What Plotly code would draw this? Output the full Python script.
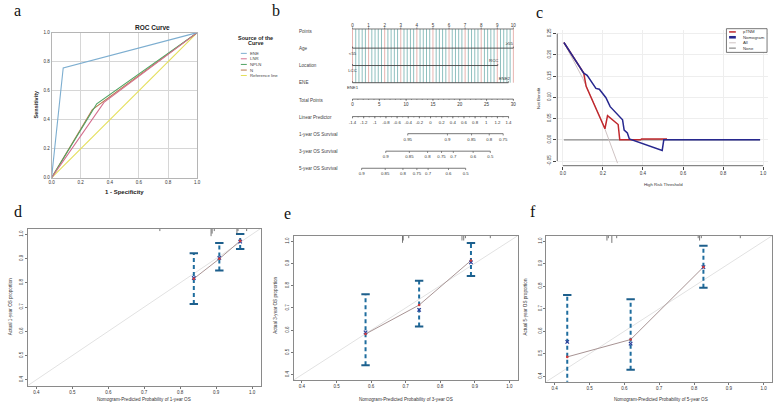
import plotly.graph_objects as go

W, H = 777, 412
def fx(p): return p / W
def fy(p): return 1 - p / H

SANS = "Liberation Sans, Arial, sans-serif"
SERIF = "Liberation Serif, Times New Roman, serif"

# ================= DATA =================
# --- Panel a: ROC curves ---
roc_names = ["ENE", "LNR", "NPLN", "N", "Reference line"]
roc_colors = ["#7daed0", "#d4708f", "#4fa362", "#b9784c", "#e4df5a"]
roc_fpr_ene = [0, 0.08, 1]
roc_tpr_ene = [0, 0.757, 1]
roc_fpr_lnr = [0, 0.36, 1]
roc_tpr_lnr = [0, 0.52, 1]
roc_fpr_npln = [0, 0.31, 1]
roc_tpr_npln = [0, 0.51, 1]
roc_fpr_n = [0, 0.28, 1]
roc_tpr_n = [0, 0.47, 1]
roc_fpr_ref = [0, 1]
roc_tpr_ref = [0, 1]
unit_ticks = [0, 0.2, 0.4, 0.6, 0.8, 1.0]
unit_ticktext = ["0.0", "0.2", "0.4", "0.6", "0.8", "1.0"]

# --- Panel b: nomogram ---
nomo_rows = ["Points", "Age", "Location", "ENE", "Total Points", "Linear Predictor",
             "1-year OS Survival", "3-year OS Survival", "5-year OS Survival"]
points_ticks = [0, 1, 2, 3, 4, 5, 6, 7, 8, 9, 10]
age_points = [0, 10]
age_levels = ["<55", "≥55"]
location_points = [0, 9.03]
location_levels = ["LCC", "RCC"]
ene_points = [0, 9.69]
ene_levels = ["ENE1", "ENE2"]
total_points_ticks = [0, 5, 10, 15, 20, 25, 30]
lp_ticks = [-1.4, -1.2, -1, -0.8, -0.6, -0.4, -0.2, 0, 0.2, 0.4, 0.6, 0.8, 1, 1.2, 1.4]
lp_total_points = [0.0, 29.1]          # total points at LP = -1.4 and LP = 1.4
os1_labels = ["0.95", "0.9", "0.85", "0.8", "0.75"]
os1_total_points = [10.3, 17.7, 22.2, 25.5, 28.1]
os3_labels = ["0.9", "0.85", "0.8", "0.75", "0.7", "0.6", "0.5"]
os3_total_points = [6.2, 10.6, 14.0, 16.6, 18.8, 22.5, 25.7]
os5_labels = ["0.9", "0.85", "0.8", "0.75", "0.7", "0.6", "0.5"]
os5_total_points = [1.7, 6.1, 9.4, 12.0, 14.1, 17.9, 21.1]

# --- Panel c: decision curve ---
dca_thr_nomo = [0.005, 0.074, 0.104, 0.121, 0.165, 0.182, 0.215, 0.236, 0.298, 0.306, 0.322, 0.332, 0.496, 0.504, 0.985]
dca_nb_nomo = [0.229, 0.177, 0.157, 0.152, 0.121, 0.119, 0.099, 0.078, 0.047, 0.023, 0.016, 0.002, -0.025, 0.0, 0.0]
dca_thr_ptnm = [0.005, 0.074, 0.104, 0.116, 0.21, 0.223, 0.276, 0.284, 0.388, 0.393, 0.52]
dca_nb_ptnm = [0.229, 0.177, 0.157, 0.126, 0.026, 0.057, 0.036, 0.0, 0.0, 0.002, 0.002]
dca_thr_all = [0.005, 0.1, 0.2, 0.273]
dca_nb_all = [0.229, 0.144, 0.038, -0.055]
dca_thr_none = [0.005, 0.985]
dca_nb_none = [0.0, 0.0]
dca_xticks = [0, 0.2, 0.4, 0.6, 0.8, 1.0]
dca_xticktext = ["0.0", "0.2", "0.4", "0.6", "0.8", "1.0"]
dca_yticks = [-0.05, 0, 0.05, 0.10, 0.15, 0.20, 0.25]
dca_yticktext = ["-0.05", "0.00", "0.05", "0.10", "0.15", "0.20", "0.25"]

# --- Panels d, e, f: calibration ---
cal_ticks = [0.4, 0.5, 0.6, 0.7, 0.8, 0.9, 1.0]
cal_ticktext = ["0.4", "0.5", "0.6", "0.7", "0.8", "0.9", "1.0"]
d_pred = [0.838, 0.909, 0.967]
d_obs = [0.817, 0.899, 0.973]
d_bc = [0.820, 0.903, 0.970]
d_lo = [0.713, 0.851, 0.940]
d_hi = [0.922, 0.964, 1.001]
d_rug = [0.7435, 0.886, 0.889, 0.895, 0.958, 0.961, 0.985]
d_rug_n = [1, 3, 2, 1, 2, 1, 1]

e_pred = [0.584, 0.739, 0.889]
e_obs = [0.583, 0.713, 0.913]
e_bc = [0.590, 0.691, 0.905]
e_lo = [0.443, 0.617, 0.844]
e_hi = [0.761, 0.822, 0.992]
e_rug = [0.691, 0.693, 0.709, 0.863, 0.868, 0.873, 0.945]
e_rug_n = [3, 2, 1, 2, 2, 1, 1]

f_pred = [0.436, 0.618, 0.827]
f_obs = [0.486, 0.563, 0.885]
f_bc = [0.553, 0.545, 0.885]
f_lo = [0.300, 0.429, 0.793]
f_hi = [0.761, 0.742, 0.980]
f_rug = [0.550, 0.554, 0.564, 0.578, 0.812, 0.816, 0.821, 0.933]
f_rug_n = [2, 1, 3, 1, 1, 2, 1, 1]

# ================= FIGURE =================
fig = go.Figure()
annotations = []
shapes = []

def ann(text, x, y, size, bold=False, color="#222", xanchor="center", angle=0, family=SANS):
    annotations.append(dict(text=("<b>%s</b>" % text) if bold else text, x=fx(x), y=fy(y),
                            xref="paper", yref="paper", showarrow=False, xanchor=xanchor,
                            yanchor="middle", textangle=angle,
                            font=dict(size=size, color=color, family=family)))

def lines_trace(xs, ys, color, width, xa, ya, dash=None):
    return go.Scatter(x=xs, y=ys, mode="lines", line=dict(color=color, width=width, dash=dash),
                      xaxis=xa, yaxis=ya, showlegend=False, hoverinfo="skip")

def segs(pairs_x, pairs_y, color, width, xa, ya, dash=None):
    X, Y = [], []
    for (x0, x1), (y0, y1) in zip(pairs_x, pairs_y):
        X += [x0, x1, None]
        Y += [y0, y1, None]
    return lines_trace(X, Y, color, width, xa, ya, dash)

def texts(xs, ys, labels, size, xa, ya, color="#333", pos="middle center"):
    return go.Scatter(x=xs, y=ys, text=labels, mode="text", textposition=pos,
                      textfont=dict(size=size, color=color, family=SANS), cliponaxis=False,
                      xaxis=xa, yaxis=ya, showlegend=False, hoverinfo="skip")

# ---------- Panel a ----------
roc_data = [(roc_fpr_ref, roc_tpr_ref, roc_colors[4]),
            (roc_fpr_n, roc_tpr_n, roc_colors[3]),
            (roc_fpr_npln, roc_tpr_npln, roc_colors[2]),
            (roc_fpr_lnr, roc_tpr_lnr, roc_colors[1]),
            (roc_fpr_ene, roc_tpr_ene, roc_colors[0])]
for xs, ys, col in roc_data:
    fig.add_trace(lines_trace(xs, ys, col, 1.1, "x", "y"))

ann("a", 14.5, 8.5, 16, family=SERIF, color="#111")
ann("ROC Curve", 151, 26, 6.5, bold=True)
ann("Sensitivity", 33, 104, 5.5, bold=True, angle=-90)
ann("1 - Specificity", 123, 192.5, 6, bold=True)
ann("Source of the", 255, 36, 5.5, bold=True)
ann("Curve", 255, 41.5, 5.5, bold=True)
leg_a_y = [52, 57.5, 63.2, 68.9, 74.4]
for name, col, yy in zip(roc_names, roc_colors, leg_a_y):
    shapes.append(dict(type="line", xref="paper", yref="paper", x0=fx(240), x1=fx(246),
                       y0=fy(yy), y1=fy(yy), line=dict(color=col, width=1)))
    ann(name, 247.5, yy, 4.3, xanchor="left", color="#444")

# ---------- Panel b: nomogram ----------
def tp(v):  # total points -> points scale
    return v / 3.0

row_y = dict(points=27.3, age=46.7, location=64.3, ene=81.7, total=98.3, lp=116.0,
             os1=133.3, os3=151.0, os5=168.3)
label_y = [30, 47, 64, 81.7, 99.3, 117, 134, 151, 168.3]
for lab, yy in zip(nomo_rows, label_y):
    ann(lab, 296.7, yy, 4.6, xanchor="left", color="#444")

# vertical grid
grid_teal_x, grid_pink_x = [], []
for i in range(0, 51):
    p = i * 0.2
    if i % 5 == 0:
        grid_pink_x.append(p)
    else:
        grid_teal_x.append(p)
fig.add_trace(segs([(p, p) for p in grid_teal_x], [(row_y["points"], row_y["ene"])] * len(grid_teal_x),
                   "#8fc0bf", 1.0, "x2", "y2"))
fig.add_trace(segs([(p, p) for p in grid_pink_x], [(row_y["points"], row_y["ene"])] * len(grid_pink_x),
                   "#e7b4b0", 1.0, "x2", "y2"))

AX = "#555555"
# Points axis
fig.add_trace(lines_trace([points_ticks[0], points_ticks[-1]], [row_y["points"]] * 2, AX, 0.8, "x2", "y2"))
fig.add_trace(segs([(p, p) for p in points_ticks], [(row_y["points"], row_y["points"] - 1.5)] * len(points_ticks),
                   AX, 0.7, "x2", "y2"))
fig.add_trace(texts(points_ticks, [23.8] * len(points_ticks), [str(p) for p in points_ticks], 4.5, "x2", "y2"))

# variable axes
for key, pts, levels in [("age", age_points, age_levels),
                         ("location", location_points, location_levels),
                         ("ene", ene_points, ene_levels)]:
    yy = row_y[key]
    fig.add_trace(lines_trace(pts, [yy, yy], "#444444", 0.9, "x2", "y2"))
    fig.add_trace(segs([(p, p) for p in pts], [(yy, yy - 1.5)] * len(pts), "#444444", 0.7, "x2", "y2"))
    fig.add_trace(texts([pts[0]], [yy + 5.5], [levels[0]], 4.3, "x2", "y2"))
    fig.add_trace(texts([pts[1] - 0.25], [yy - 4.2], [levels[1]], 4.3, "x2", "y2"))

# Total points
tot_minor = list(range(0, 31))
yy = row_y["total"]
fig.add_trace(lines_trace([tp(total_points_ticks[0]), tp(total_points_ticks[-1])], [yy, yy], AX, 0.8, "x2", "y2"))
fig.add_trace(segs([(tp(v), tp(v)) for v in tot_minor], [(yy, yy + 0.9)] * len(tot_minor), AX, 0.6, "x2", "y2"))
fig.add_trace(segs([(tp(v), tp(v)) for v in total_points_ticks], [(yy, yy + 1.8)] * len(total_points_ticks), AX, 0.7, "x2", "y2"))
fig.add_trace(texts([tp(v) for v in total_points_ticks], [104.3] * len(total_points_ticks),
                    [str(v) for v in total_points_ticks], 4.5, "x2", "y2"))

# Linear predictor
def lp_to_points(v):
    lo, hi = lp_ticks[0], lp_ticks[-1]
    return tp(lp_total_points[0] + (v - lo) / (hi - lo) * (lp_total_points[1] - lp_total_points[0]))
yy = row_y["lp"]
lp_minor = [lp_ticks[0] + 0.1 * k for k in range(29)]
fig.add_trace(lines_trace([lp_to_points(lp_ticks[0]), lp_to_points(lp_ticks[-1])], [yy, yy], AX, 0.8, "x2", "y2"))
fig.add_trace(segs([(lp_to_points(v), lp_to_points(v)) for v in lp_minor], [(yy, yy + 0.9)] * len(lp_minor), AX, 0.6, "x2", "y2"))
fig.add_trace(segs([(lp_to_points(v), lp_to_points(v)) for v in lp_ticks], [(yy, yy + 1.8)] * len(lp_ticks), AX, 0.7, "x2", "y2"))
fig.add_trace(texts([lp_to_points(v) for v in lp_ticks], [122.5] * len(lp_ticks),
                    ["%g" % v for v in lp_ticks], 4.3, "x2", "y2"))

# survival axes
for key, labs, tps, ly in [("os1", os1_labels, os1_total_points, 139.3),
                           ("os3", os3_labels, os3_total_points, 157.0),
                           ("os5", os5_labels, os5_total_points, 174.3)]:
    yy = row_y[key]
    xs = [tp(v) for v in tps]
    fig.add_trace(lines_trace([xs[0], xs[-1]], [yy, yy], AX, 0.8, "x2", "y2"))
    fig.add_trace(segs([(x, x) for x in xs], [(yy, yy + 1.8)] * len(xs), AX, 0.7, "x2", "y2"))
    fig.add_trace(texts(xs, [ly] * len(xs), labs, 4.3, "x2", "y2"))

ann("b", 275, 8.5, 16, family=SERIF, color="#111")

# ---------- Panel c: decision curve ----------
fig.add_trace(lines_trace(dca_thr_none, dca_nb_none, "#8a8a8a", 1.2, "x3", "y3"))
fig.add_trace(lines_trace(dca_thr_all, dca_nb_all, "#cfc3c3", 1.0, "x3", "y3"))
fig.add_trace(lines_trace(dca_thr_ptnm, dca_nb_ptnm, "#c0282d", 1.5, "x3", "y3"))
fig.add_trace(lines_trace(dca_thr_nomo, dca_nb_nomo, "#27288f", 1.5, "x3", "y3"))

shapes.append(dict(type="line", xref="x3", yref="y3 domain", x0=dca_xticks[0], x1=dca_xticks[-1],
                   y0=0, y1=0, line=dict(color="#444", width=0.8)))
shapes.append(dict(type="line", xref="x3 domain", yref="y3", x0=0, x1=0, y0=dca_yticks[0],
                   y1=dca_yticks[-1], line=dict(color="#444", width=0.8)))
ann("c", 541.5, 11, 16, family=SERIF, color="#111")
ann("Net Benefit", 541, 97, 4.3, angle=-90, color="#333")
ann("High Risk Threshold", 666, 185, 4.3, color="#333")
shapes.append(dict(type="rect", xref="paper", yref="paper", x0=fx(730), x1=fx(771), y0=fy(51), y1=fy(27),
                   line=dict(color="#555", width=0.8), fillcolor="white"))
dca_leg = [("pTNM", "#c0282d", 1.5), ("Nomogram", "#27288f", 2.6), ("All", "#cfc3c3", 1.0), ("None", "#8a8a8a", 1.2)]
for (name, col, w), yy in zip(dca_leg, [30.3, 35.7, 41.3, 46.7]):
    shapes.append(dict(type="line", xref="paper", yref="paper", x0=fx(732.7), x1=fx(739.5),
                       y0=fy(yy), y1=fy(yy), line=dict(color=col, width=w)))
    ann(name, 744.5, yy, 4.3, xanchor="left", color="#333")

# ---------- Panels d, e, f: calibration ----------
CAL_LO, CAL_HI = 0.376, 1.024
cal_panels = [
    ("4", d_pred, d_obs, d_bc, d_lo, d_hi, d_rug, d_rug_n),
    ("5", e_pred, e_obs, e_bc, e_lo, e_hi, e_rug, e_rug_n),
    ("6", f_pred, f_obs, f_bc, f_lo, f_hi, f_rug, f_rug_n),
]
for idx, pred, obs, bc, lo, hi, rug, rugn in cal_panels:
    xa, ya = "x" + idx, "y" + idx
    fig.add_trace(lines_trace([CAL_LO, CAL_HI], [CAL_LO, CAL_HI], "#e2e2e2", 1.0, xa, ya))
    fig.add_trace(lines_trace(pred, obs, "#a89494", 1.0, xa, ya))
    fig.add_trace(segs([(p, p) for p in pred], list(zip(lo, hi)), "#1f6d9e", 2.0, xa, ya, dash="4px,3px"))
    fig.add_trace(go.Scatter(x=pred + pred, y=hi + lo, mode="markers", xaxis=xa, yaxis=ya,
                             marker=dict(symbol="line-ew", size=6, line=dict(color="#1d5f8c", width=2)),
                             showlegend=False, hoverinfo="skip", cliponaxis=True))
    fig.add_trace(go.Scatter(x=pred, y=bc, mode="markers", xaxis=xa, yaxis=ya,
                             marker=dict(symbol="x-thin", size=3.5, line=dict(color="#2a3f9a", width=1.2)),
                             showlegend=False, hoverinfo="skip"))
    fig.add_trace(go.Scatter(x=pred, y=obs, mode="markers", xaxis=xa, yaxis=ya,
                             marker=dict(symbol="circle", size=2.6, color="#d23a3a"),
                             showlegend=False, hoverinfo="skip"))
    fig.add_trace(segs([(r, r) for r in rug], [(CAL_HI, CAL_HI - 0.0105 * n) for n in rugn],
                       "#555555", 0.8, xa, ya))

ann("d", 15.5, 212.5, 16, family=SERIF, color="#111")
ann("e", 287, 214.5, 16, family=SERIF, color="#111")
ann("f", 535, 212.5, 16, family=SERIF, color="#111")
ann("Actual 1-year OS proportion", 7, 308, 4.6, angle=-90, color="#333")
ann("Actual 3-year OS proportion", 275, 307, 4.6, angle=-90, color="#333")
ann("Actual 5-year OS proportion", 527, 309, 4.6, angle=-90, color="#333")
ann("Nomogram-Predicted Probability of 1-year OS", 142, 402.3, 4.6, color="#333")
ann("Nomogram-Predicted Probability of 3-year OS", 406.5, 402.3, 4.6, color="#333")
ann("Nomogram-Predicted Probability of 5-year OS", 664, 402.3, 4.6, color="#333")

# ================= AXES =================
tickfont = dict(size=4.5, color="#333", family=SANS)
def roc_axis(domain, anchor):
    return dict(domain=domain, range=[0, 1], anchor=anchor, tickvals=unit_ticks, ticktext=unit_ticktext,
                tickfont=tickfont, showgrid=True, gridcolor="#d6d6d6", gridwidth=0.8, showline=True,
                mirror=True, linecolor="#b5b5b5", linewidth=0.8, ticks="", zeroline=False, fixedrange=True)

def cal_axis(domain, anchor, is_y):
    d = dict(domain=domain, range=[CAL_LO, CAL_HI], anchor=anchor, tickvals=cal_ticks, ticktext=cal_ticktext,
             tickfont=tickfont, showgrid=False, showline=True, mirror=True, linecolor="#8a8a8a",
             linewidth=1, ticks="outside", ticklen=2, tickcolor="#777", tickwidth=0.8, zeroline=False)
    if is_y:
        d["tickangle"] = -90
    return d

layout = dict(
    width=W, height=H, margin=dict(l=0, r=0, t=0, b=0), paper_bgcolor="white", plot_bgcolor="white",
    showlegend=False, hovermode=False,
    xaxis=roc_axis([fx(49), fx(196)], "y"),
    yaxis=roc_axis([fy(178), fy(31)], "x"),
    xaxis2=dict(domain=[fx(346), fx(522)], range=[-0.4128, 10.431], anchor="y2", visible=False, fixedrange=True),
    yaxis2=dict(domain=[0, 1], range=[H, 0], anchor="x2", visible=False, fixedrange=True),
    xaxis3=dict(domain=[fx(559.3), fx(772)], range=[-0.0282, 1.0248], anchor="y3", tickvals=dca_xticks,
                ticktext=dca_xticktext, tickfont=tickfont, showgrid=True, gridcolor="#eeeeee", showline=False,
                ticks="outside", ticklen=3, tickcolor="#444", tickwidth=0.8, zeroline=False),
    yaxis3=dict(domain=[fy(165.7), fy(28)], range=[-0.0609, 0.2593], anchor="x3", tickvals=dca_yticks,
                ticktext=dca_yticktext, tickfont=tickfont, showgrid=True, gridcolor="#eeeeee", showline=False,
                ticks="outside", ticklen=3, tickcolor="#444", tickwidth=0.8, zeroline=False, tickangle=-90),
    xaxis4=cal_axis([fx(25), fx(260)], "y4", False),
    yaxis4=cal_axis([fy(388.3), fy(229.3)], "x4", True),
    xaxis5=cal_axis([fx(293.3), fx(519.3)], "y5", False),
    yaxis5=cal_axis([fy(382.7), fy(236.7)], "x5", True),
    xaxis6=cal_axis([fx(548.3), fx(776)], "y6", False),
    yaxis6=cal_axis([fy(384.3), fy(236.7)], "x6", True),
    annotations=annotations,
    shapes=shapes,
)
fig.update_layout(**layout)
fig.write_html("out.html", config={"displayModeBar": False},
               post_script="document.body.style.margin='0';document.body.style.overflow='hidden';")
